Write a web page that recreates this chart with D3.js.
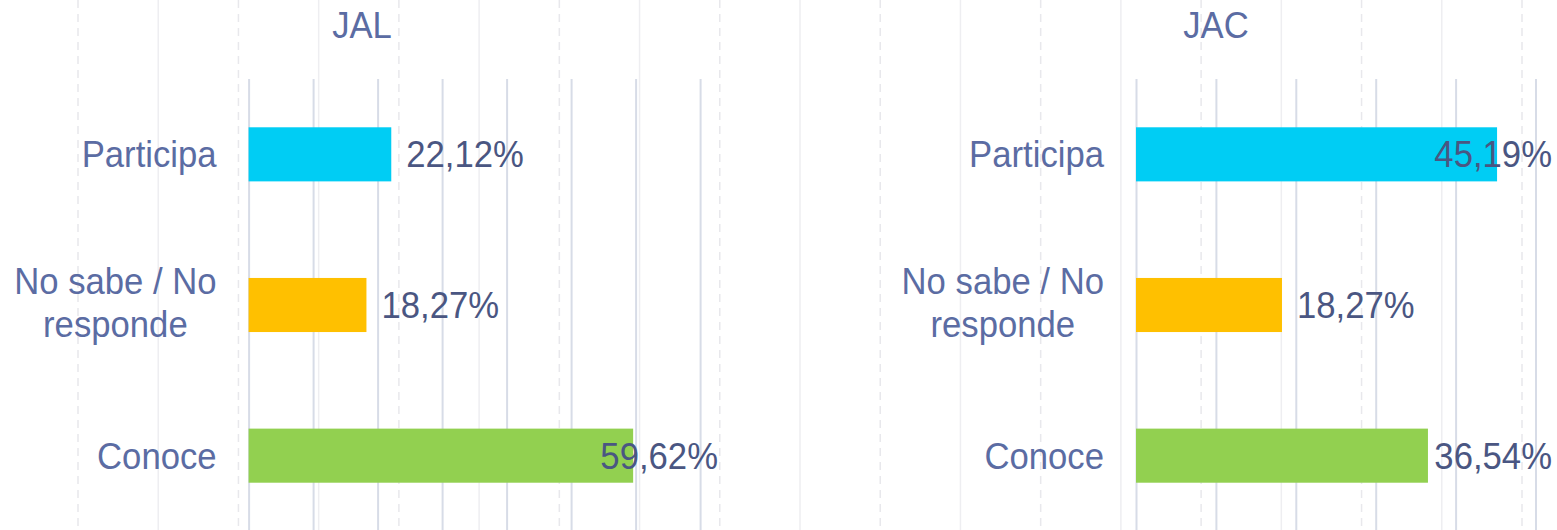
<!DOCTYPE html>
<html>
<head>
<meta charset="utf-8">
<script src="https://cdn.jsdelivr.net/npm/d3@7"></script>
<style>
  body { margin: 0; background: #fff; }
  text { font-family: 'Liberation Sans', Arial, sans-serif; }
</style>
</head>
<body>
<div id="chart"></div>
<script>
// data
const categories = ['Participa', 'No sabe / No\nresponde', 'Conoce']
const panelTitles = ['JAL', 'JAC']
const jalValues = [22.12, 18.27, 59.62]
const jacValues = [45.19, 18.27, 36.54]
const barColors = ['#00CDF4', '#FFC000', '#92D050']
const jalTicks = [0, 10, 20, 30, 40, 50, 60, 70]
const jacTicks = [0, 10, 20, 30, 40, 50]
const backgroundTicks = d3.range(19)

const width = 1557
const height = 530

// text in the picture is a bit taller than it is wide
const fontSize = 37.5
const squeeze = 0.925

const svg = d3
  .select('#chart')
  .append('svg')
  .attr('width', width)
  .attr('height', height)

function place(sel, x, y) {
  return sel.attr('transform', 'translate(' + x + ',' + y + ') scale(' + squeeze + ',1)')
}

// faint background grid behind both panels
const bgScale = d3.scaleLinear().domain([0, 18]).range([78, 1522])

svg
  .append('g')
  .selectAll('line')
  .data(backgroundTicks)
  .enter()
  .append('line')
  .attr('x1', d => bgScale(d))
  .attr('x2', d => bgScale(d))
  .attr('y1', 0)
  .attr('y2', height)
  .attr('stroke', d => (d % 2 === 0 ? '#E8E8EC' : '#EEEEF1'))
  .attr('stroke-width', 1.5)
  .attr('stroke-dasharray', d => (d % 2 === 0 ? '8,6' : null))

const yPositionScale = d3
  .scaleBand()
  .domain(categories)
  .range([79, 531])
  .paddingInner(0.641)
  .paddingOuter(0.3205)

const panels = [
  { title: panelTitles[0], values: jalValues, ticks: jalTicks, range: [248.6, 700.1], left: 0, right: 724, labelRight: 718 },
  { title: panelTitles[1], values: jacValues, ticks: jacTicks, range: [1136, 1535.5], left: 875, right: 1557, labelRight: 1552 }
]

const formatValue = v => v.toFixed(2).replace('.', ',') + '%'

panels.forEach(panel => {
  const xPositionScale = d3
    .scaleLinear()
    .domain([0, d3.max(panel.ticks)])
    .range(panel.range)

  const g = svg.append('g')

  // gridlines
  const xAxis = d3
    .axisBottom(xPositionScale)
    .tickValues(panel.ticks)
    .tickSize(-(height - 79))
    .tickFormat('')

  g.append('g')
    .attr('class', 'x-axis')
    .attr('transform', 'translate(0,' + height + ')')
    .call(xAxis)
    .call(ax => ax.select('.domain').remove())
    .call(ax => ax.selectAll('line').attr('stroke', '#D7DCE7').attr('stroke-width', 2))

  // title
  g.append('text')
    .attr('text-anchor', 'middle')
    .attr('font-size', fontSize)
    .attr('fill', '#5B6CA3')
    .text(panel.title)
    .call(place, (panel.left + panel.right) / 2, 38)

  // bars
  g.selectAll('rect')
    .data(panel.values)
    .enter()
    .append('rect')
    .attr('x', xPositionScale(0))
    .attr('y', (d, i) => yPositionScale(categories[i]))
    .attr('width', d => xPositionScale(d) - xPositionScale(0))
    .attr('height', yPositionScale.bandwidth())
    .attr('fill', (d, i) => barColors[i])

  // category labels
  const labelRight = xPositionScale(0) - 32
  categories.forEach(cat => {
    const lines = cat.split('\n')
    const cy = yPositionScale(cat) + yPositionScale.bandwidth() / 2
    const label = g.append('text')
      .attr('font-size', fontSize)
      .attr('fill', '#5B6CA3')
    if (lines.length === 1) {
      label.attr('text-anchor', 'end')
        .text(cat)
        .call(place, labelRight, cy + 13)
    } else {
      const tspans = label.selectAll('tspan')
        .data(lines)
        .enter()
        .append('tspan')
        .attr('x', 0)
        .attr('y', (d, i) => i * 43)
        .attr('text-anchor', 'middle')
        .text(d => d)
      const maxW = d3.max(tspans.nodes(), n => n.getComputedTextLength()) * squeeze
      label.call(place, labelRight - maxW / 2, cy - 11)
    }
  })

  // value labels
  g.selectAll('.value')
    .data(panel.values)
    .enter()
    .append('text')
    .attr('class', 'value')
    .attr('font-size', fontSize)
    .attr('fill', '#4A5682')
    .text(d => formatValue(d))
    .each(function(d, i) {
      const w = this.getComputedTextLength() * squeeze
      const x = Math.min(xPositionScale(d) + 15, panel.labelRight - w)
      const y = yPositionScale(categories[i]) + yPositionScale.bandwidth() / 2 + 13
      d3.select(this).call(place, x, y)
    })
})
</script>
</body>
</html>
